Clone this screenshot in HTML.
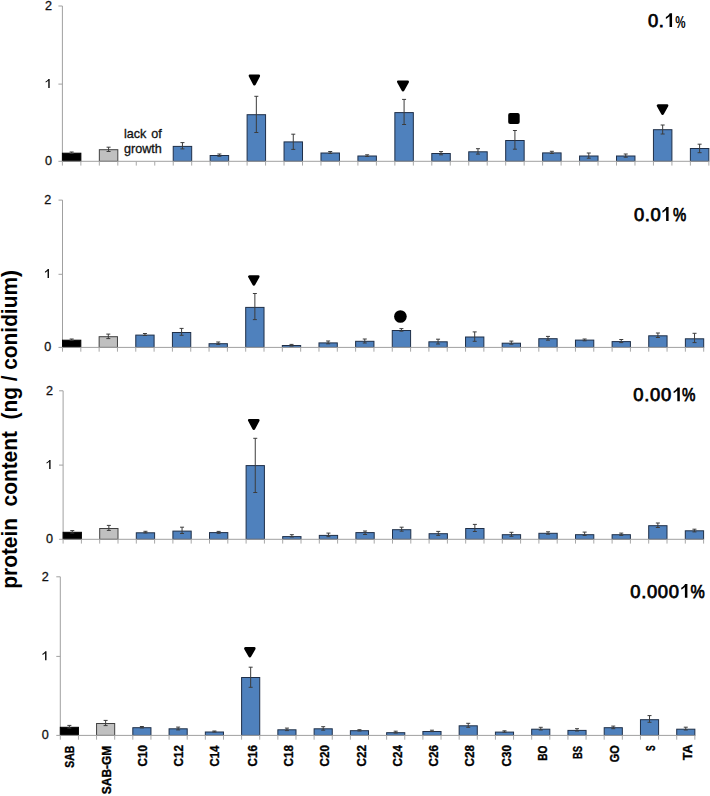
<!DOCTYPE html>
<html><head><meta charset="utf-8"><style>
html,body{margin:0;padding:0;background:#fff;}
body{width:710px;height:796px;overflow:hidden;}
svg{display:block;}
text{font-family:"Liberation Sans",sans-serif;fill:#000;}
.yt{font-size:12.6px;fill:#111;stroke:#111;stroke-width:0.3px;}
.c1{font-size:19.5px;letter-spacing:0.3px;}
.c1p{font-size:16.5px;font-weight:bold;}
.cc{font-size:18.4px;letter-spacing:0.67px;stroke:#000;stroke-width:0.75px;}
.lg{font-size:12.6px;fill:#111;stroke:#111;stroke-width:0.3px;}
.xl{font-size:12.6px;font-weight:bold;stroke:#000;stroke-width:0.35px;}
.yl{font-size:21.5px;font-weight:bold;}
</style></head><body>
<svg width="710" height="796" viewBox="0 0 710 796" shape-rendering="auto">
<rect width="710" height="796" fill="#fff"/>
<line x1="62.4" y1="6" x2="62.4" y2="161.3" stroke="#a0a0a0" stroke-width="1"/>
<line x1="58.4" y1="6" x2="62.4" y2="6" stroke="#a0a0a0" stroke-width="1"/>
<line x1="58.4" y1="84.1" x2="62.4" y2="84.1" stroke="#a0a0a0" stroke-width="1"/>
<rect x="62.4" y="153.2" width="18.47" height="8.1" fill="#000000" stroke="#000000" stroke-width="1"/>
<rect x="99.34" y="149.7" width="18.47" height="11.6" fill="#c0c0c0" stroke="#404040" stroke-width="1"/>
<rect x="173.22" y="146.4" width="18.47" height="14.9" fill="#4f81bd" stroke="#1f2f48" stroke-width="1"/>
<rect x="210.16" y="155.5" width="18.47" height="5.8" fill="#4f81bd" stroke="#1f2f48" stroke-width="1"/>
<rect x="247.1" y="114.7" width="18.47" height="46.6" fill="#4f81bd" stroke="#1f2f48" stroke-width="1"/>
<rect x="284.04" y="141.9" width="18.47" height="19.4" fill="#4f81bd" stroke="#1f2f48" stroke-width="1"/>
<rect x="320.98" y="153" width="18.47" height="8.3" fill="#4f81bd" stroke="#1f2f48" stroke-width="1"/>
<rect x="357.92" y="156" width="18.47" height="5.3" fill="#4f81bd" stroke="#1f2f48" stroke-width="1"/>
<rect x="394.86" y="112.6" width="18.47" height="48.7" fill="#4f81bd" stroke="#1f2f48" stroke-width="1"/>
<rect x="431.8" y="153.5" width="18.47" height="7.8" fill="#4f81bd" stroke="#1f2f48" stroke-width="1"/>
<rect x="468.74" y="151.8" width="18.47" height="9.5" fill="#4f81bd" stroke="#1f2f48" stroke-width="1"/>
<rect x="505.68" y="140.5" width="18.47" height="20.8" fill="#4f81bd" stroke="#1f2f48" stroke-width="1"/>
<rect x="542.62" y="152.9" width="18.47" height="8.4" fill="#4f81bd" stroke="#1f2f48" stroke-width="1"/>
<rect x="579.56" y="156" width="18.47" height="5.3" fill="#4f81bd" stroke="#1f2f48" stroke-width="1"/>
<rect x="616.5" y="156" width="18.47" height="5.3" fill="#4f81bd" stroke="#1f2f48" stroke-width="1"/>
<rect x="653.44" y="129.7" width="18.47" height="31.6" fill="#4f81bd" stroke="#1f2f48" stroke-width="1"/>
<rect x="690.38" y="148.5" width="18.47" height="12.8" fill="#4f81bd" stroke="#1f2f48" stroke-width="1"/>
<line x1="58.4" y1="161.3" x2="708.85" y2="161.3" stroke="#a0a0a0" stroke-width="1"/>
<line x1="62.4" y1="161.3" x2="62.4" y2="165.6" stroke="#a8a8a8" stroke-width="1"/>
<line x1="80.87" y1="161.3" x2="80.87" y2="165.6" stroke="#a8a8a8" stroke-width="1"/>
<line x1="99.34" y1="161.3" x2="99.34" y2="165.6" stroke="#a8a8a8" stroke-width="1"/>
<line x1="117.81" y1="161.3" x2="117.81" y2="165.6" stroke="#a8a8a8" stroke-width="1"/>
<line x1="136.28" y1="161.3" x2="136.28" y2="165.6" stroke="#a8a8a8" stroke-width="1"/>
<line x1="154.75" y1="161.3" x2="154.75" y2="165.6" stroke="#a8a8a8" stroke-width="1"/>
<line x1="173.22" y1="161.3" x2="173.22" y2="165.6" stroke="#a8a8a8" stroke-width="1"/>
<line x1="191.69" y1="161.3" x2="191.69" y2="165.6" stroke="#a8a8a8" stroke-width="1"/>
<line x1="210.16" y1="161.3" x2="210.16" y2="165.6" stroke="#a8a8a8" stroke-width="1"/>
<line x1="228.63" y1="161.3" x2="228.63" y2="165.6" stroke="#a8a8a8" stroke-width="1"/>
<line x1="247.1" y1="161.3" x2="247.1" y2="165.6" stroke="#a8a8a8" stroke-width="1"/>
<line x1="265.57" y1="161.3" x2="265.57" y2="165.6" stroke="#a8a8a8" stroke-width="1"/>
<line x1="284.04" y1="161.3" x2="284.04" y2="165.6" stroke="#a8a8a8" stroke-width="1"/>
<line x1="302.51" y1="161.3" x2="302.51" y2="165.6" stroke="#a8a8a8" stroke-width="1"/>
<line x1="320.98" y1="161.3" x2="320.98" y2="165.6" stroke="#a8a8a8" stroke-width="1"/>
<line x1="339.45" y1="161.3" x2="339.45" y2="165.6" stroke="#a8a8a8" stroke-width="1"/>
<line x1="357.92" y1="161.3" x2="357.92" y2="165.6" stroke="#a8a8a8" stroke-width="1"/>
<line x1="376.39" y1="161.3" x2="376.39" y2="165.6" stroke="#a8a8a8" stroke-width="1"/>
<line x1="394.86" y1="161.3" x2="394.86" y2="165.6" stroke="#a8a8a8" stroke-width="1"/>
<line x1="413.33" y1="161.3" x2="413.33" y2="165.6" stroke="#a8a8a8" stroke-width="1"/>
<line x1="431.8" y1="161.3" x2="431.8" y2="165.6" stroke="#a8a8a8" stroke-width="1"/>
<line x1="450.27" y1="161.3" x2="450.27" y2="165.6" stroke="#a8a8a8" stroke-width="1"/>
<line x1="468.74" y1="161.3" x2="468.74" y2="165.6" stroke="#a8a8a8" stroke-width="1"/>
<line x1="487.21" y1="161.3" x2="487.21" y2="165.6" stroke="#a8a8a8" stroke-width="1"/>
<line x1="505.68" y1="161.3" x2="505.68" y2="165.6" stroke="#a8a8a8" stroke-width="1"/>
<line x1="524.15" y1="161.3" x2="524.15" y2="165.6" stroke="#a8a8a8" stroke-width="1"/>
<line x1="542.62" y1="161.3" x2="542.62" y2="165.6" stroke="#a8a8a8" stroke-width="1"/>
<line x1="561.09" y1="161.3" x2="561.09" y2="165.6" stroke="#a8a8a8" stroke-width="1"/>
<line x1="579.56" y1="161.3" x2="579.56" y2="165.6" stroke="#a8a8a8" stroke-width="1"/>
<line x1="598.03" y1="161.3" x2="598.03" y2="165.6" stroke="#a8a8a8" stroke-width="1"/>
<line x1="616.5" y1="161.3" x2="616.5" y2="165.6" stroke="#a8a8a8" stroke-width="1"/>
<line x1="634.97" y1="161.3" x2="634.97" y2="165.6" stroke="#a8a8a8" stroke-width="1"/>
<line x1="653.44" y1="161.3" x2="653.44" y2="165.6" stroke="#a8a8a8" stroke-width="1"/>
<line x1="671.91" y1="161.3" x2="671.91" y2="165.6" stroke="#a8a8a8" stroke-width="1"/>
<line x1="690.38" y1="161.3" x2="690.38" y2="165.6" stroke="#a8a8a8" stroke-width="1"/>
<line x1="708.85" y1="161.3" x2="708.85" y2="165.6" stroke="#a8a8a8" stroke-width="1"/>
<path d="M71.63 152V153.4M69.63 152H73.63M69.63 153.4H73.63" stroke="#3c3c3c" stroke-width="1" fill="none"/>
<path d="M108.58 147.2V151.5M106.58 147.2H110.58M106.58 151.5H110.58" stroke="#3c3c3c" stroke-width="1" fill="none"/>
<path d="M182.45 142.6V148.9M180.45 142.6H184.45M180.45 148.9H184.45" stroke="#3c3c3c" stroke-width="1" fill="none"/>
<path d="M219.39 154V156.3M217.39 154H221.39M217.39 156.3H221.39" stroke="#3c3c3c" stroke-width="1" fill="none"/>
<path d="M256.33 96.3V132.5M254.33 96.3H258.33M254.33 132.5H258.33" stroke="#3c3c3c" stroke-width="1" fill="none"/>
<path d="M293.27 134.2V149.4M291.27 134.2H295.27M291.27 149.4H295.27" stroke="#3c3c3c" stroke-width="1" fill="none"/>
<path d="M330.21 151.5V153.4M328.21 151.5H332.21M328.21 153.4H332.21" stroke="#3c3c3c" stroke-width="1" fill="none"/>
<path d="M367.15 154.8V156.5M365.15 154.8H369.15M365.15 156.5H369.15" stroke="#3c3c3c" stroke-width="1" fill="none"/>
<path d="M404.09 99.4V124.5M402.09 99.4H406.09M402.09 124.5H406.09" stroke="#3c3c3c" stroke-width="1" fill="none"/>
<path d="M441.03 151.6V154.8M439.03 151.6H443.03M439.03 154.8H443.03" stroke="#3c3c3c" stroke-width="1" fill="none"/>
<path d="M477.97 148.7V154.1M475.97 148.7H479.97M475.97 154.1H479.97" stroke="#3c3c3c" stroke-width="1" fill="none"/>
<path d="M514.91 130.5V149.2M512.91 130.5H516.91M512.91 149.2H516.91" stroke="#3c3c3c" stroke-width="1" fill="none"/>
<path d="M551.86 151.3V153.5M549.86 151.3H553.86M549.86 153.5H553.86" stroke="#3c3c3c" stroke-width="1" fill="none"/>
<path d="M588.79 153V158.2M586.79 153H590.79M586.79 158.2H590.79" stroke="#3c3c3c" stroke-width="1" fill="none"/>
<path d="M625.73 154V157.2M623.73 154H627.73M623.73 157.2H627.73" stroke="#3c3c3c" stroke-width="1" fill="none"/>
<path d="M662.67 125V134M660.67 125H664.67M660.67 134H664.67" stroke="#3c3c3c" stroke-width="1" fill="none"/>
<path d="M699.62 144.2V152.7M697.62 144.2H701.62M697.62 152.7H701.62" stroke="#3c3c3c" stroke-width="1" fill="none"/>
<text x="52" y="9.9" class="yt" text-anchor="end">2</text>
<text x="52" y="165.2" class="yt" text-anchor="end">0</text>
<path d="M49.7 78.88V87.9H48.25V80.84C47.62 81.47 46.42 82.23 45.67 82.61V81.35C46.93 80.72 48 79.84 48.38 78.88Z" fill="#111"/>
<line x1="62.5" y1="200.1" x2="62.5" y2="347.4" stroke="#a0a0a0" stroke-width="1"/>
<line x1="58.5" y1="200.1" x2="62.5" y2="200.1" stroke="#a0a0a0" stroke-width="1"/>
<line x1="58.5" y1="274.3" x2="62.5" y2="274.3" stroke="#a0a0a0" stroke-width="1"/>
<rect x="62.5" y="340.2" width="18.32" height="7.2" fill="#000000" stroke="#000000" stroke-width="1"/>
<rect x="99.14" y="336.7" width="18.32" height="10.7" fill="#c0c0c0" stroke="#404040" stroke-width="1"/>
<rect x="135.78" y="335.1" width="18.32" height="12.3" fill="#4f81bd" stroke="#1f2f48" stroke-width="1"/>
<rect x="172.42" y="332.5" width="18.32" height="14.9" fill="#4f81bd" stroke="#1f2f48" stroke-width="1"/>
<rect x="209.06" y="343.7" width="18.32" height="3.7" fill="#4f81bd" stroke="#1f2f48" stroke-width="1"/>
<rect x="245.7" y="307.4" width="18.32" height="40" fill="#4f81bd" stroke="#1f2f48" stroke-width="1"/>
<rect x="282.34" y="345.5" width="18.32" height="1.9" fill="#4f81bd" stroke="#1f2f48" stroke-width="1"/>
<rect x="318.98" y="342.9" width="18.32" height="4.5" fill="#4f81bd" stroke="#1f2f48" stroke-width="1"/>
<rect x="355.62" y="341.3" width="18.32" height="6.1" fill="#4f81bd" stroke="#1f2f48" stroke-width="1"/>
<rect x="392.26" y="330.5" width="18.32" height="16.9" fill="#4f81bd" stroke="#1f2f48" stroke-width="1"/>
<rect x="428.9" y="341.8" width="18.32" height="5.6" fill="#4f81bd" stroke="#1f2f48" stroke-width="1"/>
<rect x="465.54" y="337" width="18.32" height="10.4" fill="#4f81bd" stroke="#1f2f48" stroke-width="1"/>
<rect x="502.18" y="343.2" width="18.32" height="4.2" fill="#4f81bd" stroke="#1f2f48" stroke-width="1"/>
<rect x="538.82" y="338.7" width="18.32" height="8.7" fill="#4f81bd" stroke="#1f2f48" stroke-width="1"/>
<rect x="575.46" y="340.1" width="18.32" height="7.3" fill="#4f81bd" stroke="#1f2f48" stroke-width="1"/>
<rect x="612.1" y="341.6" width="18.32" height="5.8" fill="#4f81bd" stroke="#1f2f48" stroke-width="1"/>
<rect x="648.74" y="335.8" width="18.32" height="11.6" fill="#4f81bd" stroke="#1f2f48" stroke-width="1"/>
<rect x="685.38" y="338.8" width="18.32" height="8.6" fill="#4f81bd" stroke="#1f2f48" stroke-width="1"/>
<line x1="58.5" y1="347.4" x2="703.7" y2="347.4" stroke="#a0a0a0" stroke-width="1"/>
<line x1="62.5" y1="347.4" x2="62.5" y2="351.7" stroke="#a8a8a8" stroke-width="1"/>
<line x1="80.82" y1="347.4" x2="80.82" y2="351.7" stroke="#a8a8a8" stroke-width="1"/>
<line x1="99.14" y1="347.4" x2="99.14" y2="351.7" stroke="#a8a8a8" stroke-width="1"/>
<line x1="117.46" y1="347.4" x2="117.46" y2="351.7" stroke="#a8a8a8" stroke-width="1"/>
<line x1="135.78" y1="347.4" x2="135.78" y2="351.7" stroke="#a8a8a8" stroke-width="1"/>
<line x1="154.1" y1="347.4" x2="154.1" y2="351.7" stroke="#a8a8a8" stroke-width="1"/>
<line x1="172.42" y1="347.4" x2="172.42" y2="351.7" stroke="#a8a8a8" stroke-width="1"/>
<line x1="190.74" y1="347.4" x2="190.74" y2="351.7" stroke="#a8a8a8" stroke-width="1"/>
<line x1="209.06" y1="347.4" x2="209.06" y2="351.7" stroke="#a8a8a8" stroke-width="1"/>
<line x1="227.38" y1="347.4" x2="227.38" y2="351.7" stroke="#a8a8a8" stroke-width="1"/>
<line x1="245.7" y1="347.4" x2="245.7" y2="351.7" stroke="#a8a8a8" stroke-width="1"/>
<line x1="264.02" y1="347.4" x2="264.02" y2="351.7" stroke="#a8a8a8" stroke-width="1"/>
<line x1="282.34" y1="347.4" x2="282.34" y2="351.7" stroke="#a8a8a8" stroke-width="1"/>
<line x1="300.66" y1="347.4" x2="300.66" y2="351.7" stroke="#a8a8a8" stroke-width="1"/>
<line x1="318.98" y1="347.4" x2="318.98" y2="351.7" stroke="#a8a8a8" stroke-width="1"/>
<line x1="337.3" y1="347.4" x2="337.3" y2="351.7" stroke="#a8a8a8" stroke-width="1"/>
<line x1="355.62" y1="347.4" x2="355.62" y2="351.7" stroke="#a8a8a8" stroke-width="1"/>
<line x1="373.94" y1="347.4" x2="373.94" y2="351.7" stroke="#a8a8a8" stroke-width="1"/>
<line x1="392.26" y1="347.4" x2="392.26" y2="351.7" stroke="#a8a8a8" stroke-width="1"/>
<line x1="410.58" y1="347.4" x2="410.58" y2="351.7" stroke="#a8a8a8" stroke-width="1"/>
<line x1="428.9" y1="347.4" x2="428.9" y2="351.7" stroke="#a8a8a8" stroke-width="1"/>
<line x1="447.22" y1="347.4" x2="447.22" y2="351.7" stroke="#a8a8a8" stroke-width="1"/>
<line x1="465.54" y1="347.4" x2="465.54" y2="351.7" stroke="#a8a8a8" stroke-width="1"/>
<line x1="483.86" y1="347.4" x2="483.86" y2="351.7" stroke="#a8a8a8" stroke-width="1"/>
<line x1="502.18" y1="347.4" x2="502.18" y2="351.7" stroke="#a8a8a8" stroke-width="1"/>
<line x1="520.5" y1="347.4" x2="520.5" y2="351.7" stroke="#a8a8a8" stroke-width="1"/>
<line x1="538.82" y1="347.4" x2="538.82" y2="351.7" stroke="#a8a8a8" stroke-width="1"/>
<line x1="557.14" y1="347.4" x2="557.14" y2="351.7" stroke="#a8a8a8" stroke-width="1"/>
<line x1="575.46" y1="347.4" x2="575.46" y2="351.7" stroke="#a8a8a8" stroke-width="1"/>
<line x1="593.78" y1="347.4" x2="593.78" y2="351.7" stroke="#a8a8a8" stroke-width="1"/>
<line x1="612.1" y1="347.4" x2="612.1" y2="351.7" stroke="#a8a8a8" stroke-width="1"/>
<line x1="630.42" y1="347.4" x2="630.42" y2="351.7" stroke="#a8a8a8" stroke-width="1"/>
<line x1="648.74" y1="347.4" x2="648.74" y2="351.7" stroke="#a8a8a8" stroke-width="1"/>
<line x1="667.06" y1="347.4" x2="667.06" y2="351.7" stroke="#a8a8a8" stroke-width="1"/>
<line x1="685.38" y1="347.4" x2="685.38" y2="351.7" stroke="#a8a8a8" stroke-width="1"/>
<line x1="703.7" y1="347.4" x2="703.7" y2="351.7" stroke="#a8a8a8" stroke-width="1"/>
<path d="M71.66 339V340.4M69.66 339H73.66M69.66 340.4H73.66" stroke="#3c3c3c" stroke-width="1" fill="none"/>
<path d="M108.3 334.1V338.6M106.3 334.1H110.3M106.3 338.6H110.3" stroke="#3c3c3c" stroke-width="1" fill="none"/>
<path d="M144.94 333.5V335.5M142.94 333.5H146.94M142.94 335.5H146.94" stroke="#3c3c3c" stroke-width="1" fill="none"/>
<path d="M181.58 328.4V335.3M179.58 328.4H183.58M179.58 335.3H183.58" stroke="#3c3c3c" stroke-width="1" fill="none"/>
<path d="M218.22 342V344.4M216.22 342H220.22M216.22 344.4H220.22" stroke="#3c3c3c" stroke-width="1" fill="none"/>
<path d="M254.86 293.5V319.6M252.86 293.5H256.86M252.86 319.6H256.86" stroke="#3c3c3c" stroke-width="1" fill="none"/>
<path d="M291.5 344.4V346M289.5 344.4H293.5M289.5 346H293.5" stroke="#3c3c3c" stroke-width="1" fill="none"/>
<path d="M328.14 341V343.8M326.14 341H330.14M326.14 343.8H330.14" stroke="#3c3c3c" stroke-width="1" fill="none"/>
<path d="M364.78 339V343M362.78 339H366.78M362.78 343H366.78" stroke="#3c3c3c" stroke-width="1" fill="none"/>
<path d="M401.42 328.6V331.2M399.42 328.6H403.42M399.42 331.2H403.42" stroke="#3c3c3c" stroke-width="1" fill="none"/>
<path d="M438.06 339.2V344M436.06 339.2H440.06M436.06 344H440.06" stroke="#3c3c3c" stroke-width="1" fill="none"/>
<path d="M474.7 331.9V341.3M472.7 331.9H476.7M472.7 341.3H476.7" stroke="#3c3c3c" stroke-width="1" fill="none"/>
<path d="M511.34 341.1V344.2M509.34 341.1H513.34M509.34 344.2H513.34" stroke="#3c3c3c" stroke-width="1" fill="none"/>
<path d="M547.98 336.4V340.2M545.98 336.4H549.98M545.98 340.2H549.98" stroke="#3c3c3c" stroke-width="1" fill="none"/>
<path d="M584.62 339V340.8M582.62 339H586.62M582.62 340.8H586.62" stroke="#3c3c3c" stroke-width="1" fill="none"/>
<path d="M621.26 339.5V342.6M619.26 339.5H623.26M619.26 342.6H623.26" stroke="#3c3c3c" stroke-width="1" fill="none"/>
<path d="M657.9 333V337.5M655.9 333H659.9M655.9 337.5H659.9" stroke="#3c3c3c" stroke-width="1" fill="none"/>
<path d="M694.54 333.3V342.6M692.54 333.3H696.54M692.54 342.6H696.54" stroke="#3c3c3c" stroke-width="1" fill="none"/>
<text x="51.3" y="204" class="yt" text-anchor="end">2</text>
<text x="51.3" y="351.3" class="yt" text-anchor="end">0</text>
<path d="M49 269.08V278.1H47.55V271.04C46.92 271.67 45.72 272.43 44.97 272.81V271.55C46.23 270.92 47.3 270.04 47.68 269.08Z" fill="#111"/>
<line x1="63.1" y1="390.8" x2="63.1" y2="539.3" stroke="#a0a0a0" stroke-width="1"/>
<line x1="59.1" y1="390.8" x2="63.1" y2="390.8" stroke="#a0a0a0" stroke-width="1"/>
<line x1="59.1" y1="465.1" x2="63.1" y2="465.1" stroke="#a0a0a0" stroke-width="1"/>
<rect x="63.1" y="532.3" width="18.3" height="7" fill="#000000" stroke="#000000" stroke-width="1"/>
<rect x="99.7" y="528.5" width="18.3" height="10.8" fill="#c0c0c0" stroke="#404040" stroke-width="1"/>
<rect x="136.3" y="532.8" width="18.3" height="6.5" fill="#4f81bd" stroke="#1f2f48" stroke-width="1"/>
<rect x="172.9" y="531.1" width="18.3" height="8.2" fill="#4f81bd" stroke="#1f2f48" stroke-width="1"/>
<rect x="209.5" y="532.6" width="18.3" height="6.7" fill="#4f81bd" stroke="#1f2f48" stroke-width="1"/>
<rect x="246.1" y="465.6" width="18.3" height="73.7" fill="#4f81bd" stroke="#1f2f48" stroke-width="1"/>
<rect x="282.7" y="536.6" width="18.3" height="2.7" fill="#4f81bd" stroke="#1f2f48" stroke-width="1"/>
<rect x="319.3" y="535.4" width="18.3" height="3.9" fill="#4f81bd" stroke="#1f2f48" stroke-width="1"/>
<rect x="355.9" y="532.6" width="18.3" height="6.7" fill="#4f81bd" stroke="#1f2f48" stroke-width="1"/>
<rect x="392.5" y="529.7" width="18.3" height="9.6" fill="#4f81bd" stroke="#1f2f48" stroke-width="1"/>
<rect x="429.1" y="533.7" width="18.3" height="5.6" fill="#4f81bd" stroke="#1f2f48" stroke-width="1"/>
<rect x="465.7" y="528.5" width="18.3" height="10.8" fill="#4f81bd" stroke="#1f2f48" stroke-width="1"/>
<rect x="502.3" y="534.7" width="18.3" height="4.6" fill="#4f81bd" stroke="#1f2f48" stroke-width="1"/>
<rect x="538.9" y="533.3" width="18.3" height="6" fill="#4f81bd" stroke="#1f2f48" stroke-width="1"/>
<rect x="575.5" y="534.7" width="18.3" height="4.6" fill="#4f81bd" stroke="#1f2f48" stroke-width="1"/>
<rect x="612.1" y="534.7" width="18.3" height="4.6" fill="#4f81bd" stroke="#1f2f48" stroke-width="1"/>
<rect x="648.7" y="525.7" width="18.3" height="13.6" fill="#4f81bd" stroke="#1f2f48" stroke-width="1"/>
<rect x="685.3" y="530.8" width="18.3" height="8.5" fill="#4f81bd" stroke="#1f2f48" stroke-width="1"/>
<line x1="59.1" y1="539.3" x2="703.6" y2="539.3" stroke="#a0a0a0" stroke-width="1"/>
<line x1="63.1" y1="539.3" x2="63.1" y2="543.6" stroke="#a8a8a8" stroke-width="1"/>
<line x1="81.4" y1="539.3" x2="81.4" y2="543.6" stroke="#a8a8a8" stroke-width="1"/>
<line x1="99.7" y1="539.3" x2="99.7" y2="543.6" stroke="#a8a8a8" stroke-width="1"/>
<line x1="118" y1="539.3" x2="118" y2="543.6" stroke="#a8a8a8" stroke-width="1"/>
<line x1="136.3" y1="539.3" x2="136.3" y2="543.6" stroke="#a8a8a8" stroke-width="1"/>
<line x1="154.6" y1="539.3" x2="154.6" y2="543.6" stroke="#a8a8a8" stroke-width="1"/>
<line x1="172.9" y1="539.3" x2="172.9" y2="543.6" stroke="#a8a8a8" stroke-width="1"/>
<line x1="191.2" y1="539.3" x2="191.2" y2="543.6" stroke="#a8a8a8" stroke-width="1"/>
<line x1="209.5" y1="539.3" x2="209.5" y2="543.6" stroke="#a8a8a8" stroke-width="1"/>
<line x1="227.8" y1="539.3" x2="227.8" y2="543.6" stroke="#a8a8a8" stroke-width="1"/>
<line x1="246.1" y1="539.3" x2="246.1" y2="543.6" stroke="#a8a8a8" stroke-width="1"/>
<line x1="264.4" y1="539.3" x2="264.4" y2="543.6" stroke="#a8a8a8" stroke-width="1"/>
<line x1="282.7" y1="539.3" x2="282.7" y2="543.6" stroke="#a8a8a8" stroke-width="1"/>
<line x1="301" y1="539.3" x2="301" y2="543.6" stroke="#a8a8a8" stroke-width="1"/>
<line x1="319.3" y1="539.3" x2="319.3" y2="543.6" stroke="#a8a8a8" stroke-width="1"/>
<line x1="337.6" y1="539.3" x2="337.6" y2="543.6" stroke="#a8a8a8" stroke-width="1"/>
<line x1="355.9" y1="539.3" x2="355.9" y2="543.6" stroke="#a8a8a8" stroke-width="1"/>
<line x1="374.2" y1="539.3" x2="374.2" y2="543.6" stroke="#a8a8a8" stroke-width="1"/>
<line x1="392.5" y1="539.3" x2="392.5" y2="543.6" stroke="#a8a8a8" stroke-width="1"/>
<line x1="410.8" y1="539.3" x2="410.8" y2="543.6" stroke="#a8a8a8" stroke-width="1"/>
<line x1="429.1" y1="539.3" x2="429.1" y2="543.6" stroke="#a8a8a8" stroke-width="1"/>
<line x1="447.4" y1="539.3" x2="447.4" y2="543.6" stroke="#a8a8a8" stroke-width="1"/>
<line x1="465.7" y1="539.3" x2="465.7" y2="543.6" stroke="#a8a8a8" stroke-width="1"/>
<line x1="484" y1="539.3" x2="484" y2="543.6" stroke="#a8a8a8" stroke-width="1"/>
<line x1="502.3" y1="539.3" x2="502.3" y2="543.6" stroke="#a8a8a8" stroke-width="1"/>
<line x1="520.6" y1="539.3" x2="520.6" y2="543.6" stroke="#a8a8a8" stroke-width="1"/>
<line x1="538.9" y1="539.3" x2="538.9" y2="543.6" stroke="#a8a8a8" stroke-width="1"/>
<line x1="557.2" y1="539.3" x2="557.2" y2="543.6" stroke="#a8a8a8" stroke-width="1"/>
<line x1="575.5" y1="539.3" x2="575.5" y2="543.6" stroke="#a8a8a8" stroke-width="1"/>
<line x1="593.8" y1="539.3" x2="593.8" y2="543.6" stroke="#a8a8a8" stroke-width="1"/>
<line x1="612.1" y1="539.3" x2="612.1" y2="543.6" stroke="#a8a8a8" stroke-width="1"/>
<line x1="630.4" y1="539.3" x2="630.4" y2="543.6" stroke="#a8a8a8" stroke-width="1"/>
<line x1="648.7" y1="539.3" x2="648.7" y2="543.6" stroke="#a8a8a8" stroke-width="1"/>
<line x1="667" y1="539.3" x2="667" y2="543.6" stroke="#a8a8a8" stroke-width="1"/>
<line x1="685.3" y1="539.3" x2="685.3" y2="543.6" stroke="#a8a8a8" stroke-width="1"/>
<line x1="703.6" y1="539.3" x2="703.6" y2="543.6" stroke="#a8a8a8" stroke-width="1"/>
<path d="M72.25 530.6V533M70.25 530.6H74.25M70.25 533H74.25" stroke="#3c3c3c" stroke-width="1" fill="none"/>
<path d="M108.85 525.4V530.4M106.85 525.4H110.85M106.85 530.4H110.85" stroke="#3c3c3c" stroke-width="1" fill="none"/>
<path d="M145.45 531.3V532.9M143.45 531.3H147.45M143.45 532.9H147.45" stroke="#3c3c3c" stroke-width="1" fill="none"/>
<path d="M182.05 527.2V533.5M180.05 527.2H184.05M180.05 533.5H184.05" stroke="#3c3c3c" stroke-width="1" fill="none"/>
<path d="M218.65 531.4V533.3M216.65 531.4H220.65M216.65 533.3H220.65" stroke="#3c3c3c" stroke-width="1" fill="none"/>
<path d="M255.25 438.3V492.5M253.25 438.3H257.25M253.25 492.5H257.25" stroke="#3c3c3c" stroke-width="1" fill="none"/>
<path d="M291.85 534.7V536.9M289.85 534.7H293.85M289.85 536.9H293.85" stroke="#3c3c3c" stroke-width="1" fill="none"/>
<path d="M328.45 533.1V536.7M326.45 533.1H330.45M326.45 536.7H330.45" stroke="#3c3c3c" stroke-width="1" fill="none"/>
<path d="M365.05 531V534.5M363.05 531H367.05M363.05 534.5H367.05" stroke="#3c3c3c" stroke-width="1" fill="none"/>
<path d="M401.65 527.2V531.2M399.65 527.2H403.65M399.65 531.2H403.65" stroke="#3c3c3c" stroke-width="1" fill="none"/>
<path d="M438.25 531.4V535.4M436.25 531.4H440.25M436.25 535.4H440.25" stroke="#3c3c3c" stroke-width="1" fill="none"/>
<path d="M474.85 524.4V531.5M472.85 524.4H476.85M472.85 531.5H476.85" stroke="#3c3c3c" stroke-width="1" fill="none"/>
<path d="M511.45 532.3V536.3M509.45 532.3H513.45M509.45 536.3H513.45" stroke="#3c3c3c" stroke-width="1" fill="none"/>
<path d="M548.05 531.8V534.2M546.05 531.8H550.05M546.05 534.2H550.05" stroke="#3c3c3c" stroke-width="1" fill="none"/>
<path d="M584.65 532.1V535.4M582.65 532.1H586.65M582.65 535.4H586.65" stroke="#3c3c3c" stroke-width="1" fill="none"/>
<path d="M621.25 533.1V535.4M619.25 533.1H623.25M619.25 535.4H623.25" stroke="#3c3c3c" stroke-width="1" fill="none"/>
<path d="M657.85 523V527.5M655.85 523H659.85M655.85 527.5H659.85" stroke="#3c3c3c" stroke-width="1" fill="none"/>
<path d="M694.45 529.2V531.9M692.45 529.2H696.45M692.45 531.9H696.45" stroke="#3c3c3c" stroke-width="1" fill="none"/>
<text x="52.9" y="394.7" class="yt" text-anchor="end">2</text>
<text x="52.9" y="543.2" class="yt" text-anchor="end">0</text>
<path d="M50.6 459.88V468.9H49.15V461.84C48.52 462.47 47.32 463.23 46.57 463.61V462.35C47.83 461.72 48.9 460.84 49.28 459.88Z" fill="#111"/>
<line x1="60.3" y1="576.8" x2="60.3" y2="735.4" stroke="#a0a0a0" stroke-width="1"/>
<line x1="56.3" y1="576.8" x2="60.3" y2="576.8" stroke="#a0a0a0" stroke-width="1"/>
<line x1="56.3" y1="656.4" x2="60.3" y2="656.4" stroke="#a0a0a0" stroke-width="1"/>
<rect x="60.3" y="727.3" width="18.13" height="8.1" fill="#000000" stroke="#000000" stroke-width="1"/>
<rect x="96.56" y="723.5" width="18.13" height="11.9" fill="#c0c0c0" stroke="#404040" stroke-width="1"/>
<rect x="132.82" y="727.7" width="18.13" height="7.7" fill="#4f81bd" stroke="#1f2f48" stroke-width="1"/>
<rect x="169.08" y="728.8" width="18.13" height="6.6" fill="#4f81bd" stroke="#1f2f48" stroke-width="1"/>
<rect x="205.34" y="732" width="18.13" height="3.4" fill="#4f81bd" stroke="#1f2f48" stroke-width="1"/>
<rect x="241.6" y="677.5" width="18.13" height="57.9" fill="#4f81bd" stroke="#1f2f48" stroke-width="1"/>
<rect x="277.86" y="729.8" width="18.13" height="5.6" fill="#4f81bd" stroke="#1f2f48" stroke-width="1"/>
<rect x="314.12" y="728.8" width="18.13" height="6.6" fill="#4f81bd" stroke="#1f2f48" stroke-width="1"/>
<rect x="350.38" y="730.7" width="18.13" height="4.7" fill="#4f81bd" stroke="#1f2f48" stroke-width="1"/>
<rect x="386.64" y="732.7" width="18.13" height="2.7" fill="#4f81bd" stroke="#1f2f48" stroke-width="1"/>
<rect x="422.9" y="731.5" width="18.13" height="3.9" fill="#4f81bd" stroke="#1f2f48" stroke-width="1"/>
<rect x="459.16" y="725.8" width="18.13" height="9.6" fill="#4f81bd" stroke="#1f2f48" stroke-width="1"/>
<rect x="495.42" y="732.1" width="18.13" height="3.3" fill="#4f81bd" stroke="#1f2f48" stroke-width="1"/>
<rect x="531.68" y="729.2" width="18.13" height="6.2" fill="#4f81bd" stroke="#1f2f48" stroke-width="1"/>
<rect x="567.94" y="730.4" width="18.13" height="5" fill="#4f81bd" stroke="#1f2f48" stroke-width="1"/>
<rect x="604.2" y="727.7" width="18.13" height="7.7" fill="#4f81bd" stroke="#1f2f48" stroke-width="1"/>
<rect x="640.46" y="719.7" width="18.13" height="15.7" fill="#4f81bd" stroke="#1f2f48" stroke-width="1"/>
<rect x="676.72" y="729.2" width="18.13" height="6.2" fill="#4f81bd" stroke="#1f2f48" stroke-width="1"/>
<line x1="56.3" y1="735.4" x2="694.85" y2="735.4" stroke="#a0a0a0" stroke-width="1"/>
<line x1="60.3" y1="735.4" x2="60.3" y2="739.7" stroke="#a8a8a8" stroke-width="1"/>
<line x1="78.43" y1="735.4" x2="78.43" y2="739.7" stroke="#a8a8a8" stroke-width="1"/>
<line x1="96.56" y1="735.4" x2="96.56" y2="739.7" stroke="#a8a8a8" stroke-width="1"/>
<line x1="114.69" y1="735.4" x2="114.69" y2="739.7" stroke="#a8a8a8" stroke-width="1"/>
<line x1="132.82" y1="735.4" x2="132.82" y2="739.7" stroke="#a8a8a8" stroke-width="1"/>
<line x1="150.95" y1="735.4" x2="150.95" y2="739.7" stroke="#a8a8a8" stroke-width="1"/>
<line x1="169.08" y1="735.4" x2="169.08" y2="739.7" stroke="#a8a8a8" stroke-width="1"/>
<line x1="187.21" y1="735.4" x2="187.21" y2="739.7" stroke="#a8a8a8" stroke-width="1"/>
<line x1="205.34" y1="735.4" x2="205.34" y2="739.7" stroke="#a8a8a8" stroke-width="1"/>
<line x1="223.47" y1="735.4" x2="223.47" y2="739.7" stroke="#a8a8a8" stroke-width="1"/>
<line x1="241.6" y1="735.4" x2="241.6" y2="739.7" stroke="#a8a8a8" stroke-width="1"/>
<line x1="259.73" y1="735.4" x2="259.73" y2="739.7" stroke="#a8a8a8" stroke-width="1"/>
<line x1="277.86" y1="735.4" x2="277.86" y2="739.7" stroke="#a8a8a8" stroke-width="1"/>
<line x1="295.99" y1="735.4" x2="295.99" y2="739.7" stroke="#a8a8a8" stroke-width="1"/>
<line x1="314.12" y1="735.4" x2="314.12" y2="739.7" stroke="#a8a8a8" stroke-width="1"/>
<line x1="332.25" y1="735.4" x2="332.25" y2="739.7" stroke="#a8a8a8" stroke-width="1"/>
<line x1="350.38" y1="735.4" x2="350.38" y2="739.7" stroke="#a8a8a8" stroke-width="1"/>
<line x1="368.51" y1="735.4" x2="368.51" y2="739.7" stroke="#a8a8a8" stroke-width="1"/>
<line x1="386.64" y1="735.4" x2="386.64" y2="739.7" stroke="#a8a8a8" stroke-width="1"/>
<line x1="404.77" y1="735.4" x2="404.77" y2="739.7" stroke="#a8a8a8" stroke-width="1"/>
<line x1="422.9" y1="735.4" x2="422.9" y2="739.7" stroke="#a8a8a8" stroke-width="1"/>
<line x1="441.03" y1="735.4" x2="441.03" y2="739.7" stroke="#a8a8a8" stroke-width="1"/>
<line x1="459.16" y1="735.4" x2="459.16" y2="739.7" stroke="#a8a8a8" stroke-width="1"/>
<line x1="477.29" y1="735.4" x2="477.29" y2="739.7" stroke="#a8a8a8" stroke-width="1"/>
<line x1="495.42" y1="735.4" x2="495.42" y2="739.7" stroke="#a8a8a8" stroke-width="1"/>
<line x1="513.55" y1="735.4" x2="513.55" y2="739.7" stroke="#a8a8a8" stroke-width="1"/>
<line x1="531.68" y1="735.4" x2="531.68" y2="739.7" stroke="#a8a8a8" stroke-width="1"/>
<line x1="549.81" y1="735.4" x2="549.81" y2="739.7" stroke="#a8a8a8" stroke-width="1"/>
<line x1="567.94" y1="735.4" x2="567.94" y2="739.7" stroke="#a8a8a8" stroke-width="1"/>
<line x1="586.07" y1="735.4" x2="586.07" y2="739.7" stroke="#a8a8a8" stroke-width="1"/>
<line x1="604.2" y1="735.4" x2="604.2" y2="739.7" stroke="#a8a8a8" stroke-width="1"/>
<line x1="622.33" y1="735.4" x2="622.33" y2="739.7" stroke="#a8a8a8" stroke-width="1"/>
<line x1="640.46" y1="735.4" x2="640.46" y2="739.7" stroke="#a8a8a8" stroke-width="1"/>
<line x1="658.59" y1="735.4" x2="658.59" y2="739.7" stroke="#a8a8a8" stroke-width="1"/>
<line x1="676.72" y1="735.4" x2="676.72" y2="739.7" stroke="#a8a8a8" stroke-width="1"/>
<line x1="694.85" y1="735.4" x2="694.85" y2="739.7" stroke="#a8a8a8" stroke-width="1"/>
<path d="M69.36 725.4V728M67.36 725.4H71.36M67.36 728H71.36" stroke="#3c3c3c" stroke-width="1" fill="none"/>
<path d="M105.62 720.4V725.6M103.62 720.4H107.62M103.62 725.6H107.62" stroke="#3c3c3c" stroke-width="1" fill="none"/>
<path d="M141.88 726.5V727.9M139.88 726.5H143.88M139.88 727.9H143.88" stroke="#3c3c3c" stroke-width="1" fill="none"/>
<path d="M178.14 727.1V729.9M176.14 727.1H180.14M176.14 729.9H180.14" stroke="#3c3c3c" stroke-width="1" fill="none"/>
<path d="M214.4 731V732M212.4 731H216.4M212.4 732H216.4" stroke="#3c3c3c" stroke-width="1" fill="none"/>
<path d="M250.66 667.2V687.3M248.66 667.2H252.66M248.66 687.3H252.66" stroke="#3c3c3c" stroke-width="1" fill="none"/>
<path d="M286.93 728.1V730.6M284.93 728.1H288.93M284.93 730.6H288.93" stroke="#3c3c3c" stroke-width="1" fill="none"/>
<path d="M323.19 726.7V730.2M321.19 726.7H325.19M321.19 730.2H325.19" stroke="#3c3c3c" stroke-width="1" fill="none"/>
<path d="M359.44 729.7V731M357.44 729.7H361.44M357.44 731H361.44" stroke="#3c3c3c" stroke-width="1" fill="none"/>
<path d="M395.7 731.2V733M393.7 731.2H397.7M393.7 733H397.7" stroke="#3c3c3c" stroke-width="1" fill="none"/>
<path d="M431.96 730.2V731.6M429.96 730.2H433.96M429.96 731.6H433.96" stroke="#3c3c3c" stroke-width="1" fill="none"/>
<path d="M468.22 723.3V727.3M466.22 723.3H470.22M466.22 727.3H470.22" stroke="#3c3c3c" stroke-width="1" fill="none"/>
<path d="M504.49 730.8V732.2M502.49 730.8H506.49M502.49 732.2H506.49" stroke="#3c3c3c" stroke-width="1" fill="none"/>
<path d="M540.75 727.3V730M538.75 727.3H542.75M538.75 730H542.75" stroke="#3c3c3c" stroke-width="1" fill="none"/>
<path d="M577 728.7V731M575 728.7H579M575 731H579" stroke="#3c3c3c" stroke-width="1" fill="none"/>
<path d="M613.26 726.1V728.7M611.26 726.1H615.26M611.26 728.7H615.26" stroke="#3c3c3c" stroke-width="1" fill="none"/>
<path d="M649.52 715.6V722.3M647.52 715.6H651.52M647.52 722.3H651.52" stroke="#3c3c3c" stroke-width="1" fill="none"/>
<path d="M685.78 727.2V730M683.78 727.2H687.78M683.78 730H687.78" stroke="#3c3c3c" stroke-width="1" fill="none"/>
<text x="48.8" y="580.7" class="yt" text-anchor="end">2</text>
<text x="48.8" y="739.3" class="yt" text-anchor="end">0</text>
<path d="M46.5 651.18V660.2H45.05V653.14C44.42 653.77 43.22 654.53 42.47 654.91V653.65C43.73 653.02 44.8 652.14 45.18 651.18Z" fill="#111"/>
<path d="M250.1 75.8H258.7L254.4 84.15Z" fill="#000" stroke="#000" stroke-width="2.8" stroke-linejoin="round"/>
<path d="M398.4 81.8H407.6L403 89.95Z" fill="#000" stroke="#000" stroke-width="2.8" stroke-linejoin="round"/>
<path d="M658.1 105.6H667L662.55 113.55Z" fill="#000" stroke="#000" stroke-width="2.8" stroke-linejoin="round"/>
<path d="M249.5 276.6H258.2L253.85 284.25Z" fill="#000" stroke="#000" stroke-width="2.8" stroke-linejoin="round"/>
<path d="M249.4 420.3H258.2L253.8 428.55Z" fill="#000" stroke="#000" stroke-width="2.8" stroke-linejoin="round"/>
<path d="M245.5 648.5H254.2L249.85 656.15Z" fill="#000" stroke="#000" stroke-width="2.8" stroke-linejoin="round"/>
<rect x="508.2" y="112.9" width="11.5" height="11" rx="2" fill="#000"/>
<circle cx="400.4" cy="316.5" r="6.3" fill="#000"/>
<text x="647.95" y="27.1" class="cc">0.</text>
<path d="M672.05 13.28V27.1H669.55V16.29C668.58 17.26 667.03 18.41 665.87 18.99V17.06C667.8 16.1 669.16 14.75 669.74 13.28Z" fill="#000"/>
<text x="675.2" y="27.6" class="c1p" textLength="10.3" lengthAdjust="spacingAndGlyphs">%</text>
<text x="633.95" y="220.9" class="cc">0.0</text>
<path d="M668.6 207.08V220.9H666.1V210.09C665.13 211.06 663.58 212.22 662.42 212.79V210.86C664.35 209.9 665.71 208.55 666.29 207.08Z" fill="#000"/>
<text x="672.91" y="220.9" class="cc" textLength="13.75" lengthAdjust="spacingAndGlyphs">%</text>
<text x="633.35" y="401.2" class="cc">0.00</text>
<path d="M679.8 387.38V401.2H677.3V390.39C676.33 391.36 674.78 392.51 673.62 393.09V391.16C675.55 390.2 676.91 388.85 677.49 387.38Z" fill="#000"/>
<text x="682.1" y="401.2" class="cc" textLength="13.97" lengthAdjust="spacingAndGlyphs">%</text>
<text x="630.25" y="597.7" class="cc">0.000</text>
<path d="M687.4 583.88V597.7H684.9V586.89C683.93 587.86 682.38 589.02 681.22 589.59V587.66C683.15 586.7 684.51 585.35 685.09 583.88Z" fill="#000"/>
<text x="690.57" y="597.7" class="cc" textLength="14.83" lengthAdjust="spacingAndGlyphs">%</text>
<text x="124" y="138.2" class="lg" word-spacing="1.3">lack of</text>
<text x="124" y="153.4" class="lg">growth</text>
<text transform="translate(74.2,745.7) rotate(-90)" class="xl" text-anchor="end" textLength="22" lengthAdjust="spacingAndGlyphs">SAB</text>
<text transform="translate(111.4,745.7) rotate(-90)" class="xl" text-anchor="end" textLength="48.5" lengthAdjust="spacingAndGlyphs">SAB-GM</text>
<text transform="translate(147,745.1) rotate(-90)" class="xl" text-anchor="end" textLength="21.3" lengthAdjust="spacingAndGlyphs">C10</text>
<text transform="translate(183.3,745.1) rotate(-90)" class="xl" text-anchor="end" textLength="21.3" lengthAdjust="spacingAndGlyphs">C12</text>
<text transform="translate(219.3,745.6) rotate(-90)" class="xl" text-anchor="end" textLength="20.8" lengthAdjust="spacingAndGlyphs">C14</text>
<text transform="translate(256.6,745.1) rotate(-90)" class="xl" text-anchor="end" textLength="21.3" lengthAdjust="spacingAndGlyphs">C16</text>
<text transform="translate(292.5,745.1) rotate(-90)" class="xl" text-anchor="end" textLength="21.3" lengthAdjust="spacingAndGlyphs">C18</text>
<text transform="translate(328.5,745.1) rotate(-90)" class="xl" text-anchor="end" textLength="21.3" lengthAdjust="spacingAndGlyphs">C20</text>
<text transform="translate(366.1,745.1) rotate(-90)" class="xl" text-anchor="end" textLength="21.3" lengthAdjust="spacingAndGlyphs">C22</text>
<text transform="translate(401.6,745.1) rotate(-90)" class="xl" text-anchor="end" textLength="21.3" lengthAdjust="spacingAndGlyphs">C24</text>
<text transform="translate(437.6,745.1) rotate(-90)" class="xl" text-anchor="end" textLength="21.3" lengthAdjust="spacingAndGlyphs">C26</text>
<text transform="translate(474,745.1) rotate(-90)" class="xl" text-anchor="end" textLength="21.3" lengthAdjust="spacingAndGlyphs">C28</text>
<text transform="translate(510.8,745.1) rotate(-90)" class="xl" text-anchor="end" textLength="21.3" lengthAdjust="spacingAndGlyphs">C30</text>
<text transform="translate(547.1,745.6) rotate(-90)" class="xl" text-anchor="end" textLength="15.2" lengthAdjust="spacingAndGlyphs">BO</text>
<text transform="translate(582.2,746) rotate(-90)" class="xl" text-anchor="end" textLength="13.1" lengthAdjust="spacingAndGlyphs">BS</text>
<text transform="translate(619.2,745.4) rotate(-90)" class="xl" text-anchor="end" textLength="16.9" lengthAdjust="spacingAndGlyphs">GO</text>
<text transform="translate(655.1,745.4) rotate(-90)" class="xl" text-anchor="end" textLength="5.7" lengthAdjust="spacingAndGlyphs">S</text>
<text transform="translate(692,744.3) rotate(-90)" class="xl" text-anchor="end" textLength="15.9" lengthAdjust="spacingAndGlyphs">TA</text>
<text transform="translate(17,588.7) rotate(-90)" class="yl" textLength="318.6" lengthAdjust="spacingAndGlyphs">protein&#160; content&#160; (ng / conidium)</text>
</svg>
</body></html>
